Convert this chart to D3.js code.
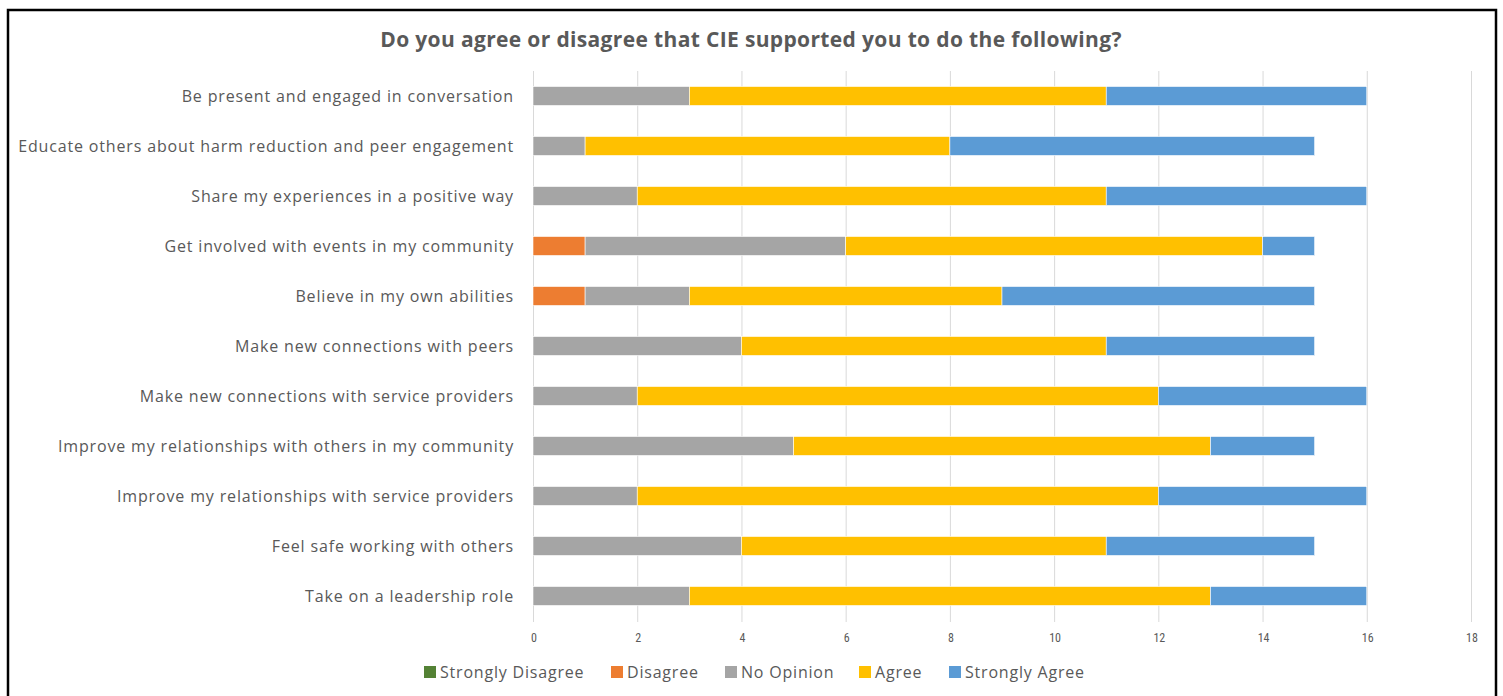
<!DOCTYPE html>
<html>
<head>
<meta charset="utf-8">
<script src="https://cdn.jsdelivr.net/npm/d3@7/dist/d3.min.js"></script>
<style>
  html, body { margin: 0; padding: 0; background: #fff; }
  svg { display: block; }
</style>
</head>
<body>
<svg id="chart" width="1503" height="696"></svg>
<script>
// Survey statements, top to bottom
const categories = [
  "Be present and engaged in conversation",
  "Educate others about harm reduction and peer engagement",
  "Share my experiences in a positive way",
  "Get involved with events in my community",
  "Believe in my own abilities",
  "Make new connections with peers",
  "Make new connections with service providers",
  "Improve my relationships with others in my community",
  "Improve my relationships with service providers",
  "Feel safe working with others",
  "Take on a leadership role"
];

// Response counts per statement
const stronglyDisagree = [0, 0, 0, 0, 0, 0, 0, 0, 0, 0, 0];
const disagree         = [0, 0, 0, 1, 1, 0, 0, 0, 0, 0, 0];
const noOpinion        = [3, 1, 2, 5, 2, 4, 2, 5, 2, 4, 3];
const agree            = [8, 7, 9, 8, 6, 7, 10, 8, 10, 7, 10];
const stronglyAgree    = [5, 7, 5, 1, 6, 4, 4, 2, 4, 4, 3];

const seriesNames = ["Strongly Disagree", "Disagree", "No Opinion", "Agree", "Strongly Agree"];
const seriesValues = [stronglyDisagree, disagree, noOpinion, agree, stronglyAgree];
const seriesColors = ["#548235", "#ED7D31", "#A5A5A5", "#FFC000", "#5B9BD5"];
const xTicks = [0, 2, 4, 6, 8, 10, 12, 14, 16, 18];

const title = "Do you agree or disagree that CIE supported you to do the following?";

const svg = d3.select("#chart");
const font = "'Open Sans', 'Noto Sans', sans-serif";

// Outer frame
svg.append("rect")
  .attr("x", 8).attr("y", 10)
  .attr("width", 1488).attr("height", 700)
  .attr("fill", "#fff")
  .attr("stroke", "#000").attr("stroke-width", 2.5);

const plot = { left: 533, right: 1471, top: 71, bottom: 621 };

const x = d3.scaleLinear().domain([0, 18]).range([plot.left, plot.right]);
const y = d3.scaleBand().domain(categories).range([plot.top, plot.bottom]).paddingInner(0.62).paddingOuter(0.31);

// Stack the series
const rows = categories.map((c, i) => {
  const r = { category: c };
  seriesNames.forEach((s, k) => { r[s] = seriesValues[k][i]; });
  return r;
});
const stacked = d3.stack().keys(seriesNames)(rows);

// Vertical gridlines
svg.append("g")
  .selectAll("line")
  .data(xTicks)
  .join("line")
  .attr("x1", d => x(d) + 0.5).attr("x2", d => x(d) + 0.5)
  .attr("y1", plot.top).attr("y2", plot.bottom + 1)
  .attr("stroke", "#D9D9D9").attr("stroke-width", 1);

// Bars
svg.append("g")
  .selectAll("g")
  .data(stacked)
  .join("g")
  .attr("fill", (d, k) => seriesColors[k])
  .selectAll("rect")
  .data(d => d.filter(p => p[1] - p[0] > 0))
  .join("rect")
  .attr("x", d => x(d[0]))
  .attr("width", d => x(d[1]) - x(d[0]))
  .attr("y", d => y(d.data.category))
  .attr("height", y.bandwidth())
  .attr("stroke", "#fff").attr("stroke-width", 0.6);

// X axis tick labels
const xAxis = d3.axisBottom(x).tickValues(xTicks).tickSize(0).tickPadding(12);
const gx = svg.append("g").attr("transform", `translate(0.5,${plot.bottom})`).call(xAxis);
gx.select(".domain").remove();
gx.selectAll("text")
  .attr("font-family", "'Liberation Sans Narrow', 'Roboto Condensed', " + font)
  .attr("font-size", 12).attr("fill", "#595959");

// Category labels
const yAxis = d3.axisLeft(y).tickSize(0).tickPadding(19);
const gy = svg.append("g").attr("transform", `translate(${plot.left},1)`).call(yAxis);
gy.select(".domain").remove();
gy.selectAll("text")
  .attr("font-family", font)
  .attr("font-size", 16).attr("letter-spacing", 0.85).attr("fill", "#595959");

// Title
svg.append("text")
  .attr("x", 751).attr("y", 47)
  .attr("text-anchor", "middle")
  .attr("font-family", font).attr("font-weight", "bold")
  .attr("font-size", 21).attr("letter-spacing", 0.35).attr("fill", "#595959")
  .text(title);

// Legend
const legendX = [424, 611, 725, 859, 949];
const legend = svg.append("g").attr("transform", "translate(0,672)");
const items = legend.selectAll("g").data(seriesNames).join("g")
  .attr("transform", (d, k) => `translate(${legendX[k]},0)`);
items.append("rect")
  .attr("x", 0).attr("y", -6).attr("width", 12).attr("height", 12)
  .attr("fill", (d, k) => seriesColors[k]);
items.append("text")
  .attr("x", 16).attr("y", 6)
  .attr("font-family", font).attr("font-size", 16).attr("letter-spacing", 0.8).attr("fill", "#595959")
  .text(d => d);
</script>
</body>
</html>
